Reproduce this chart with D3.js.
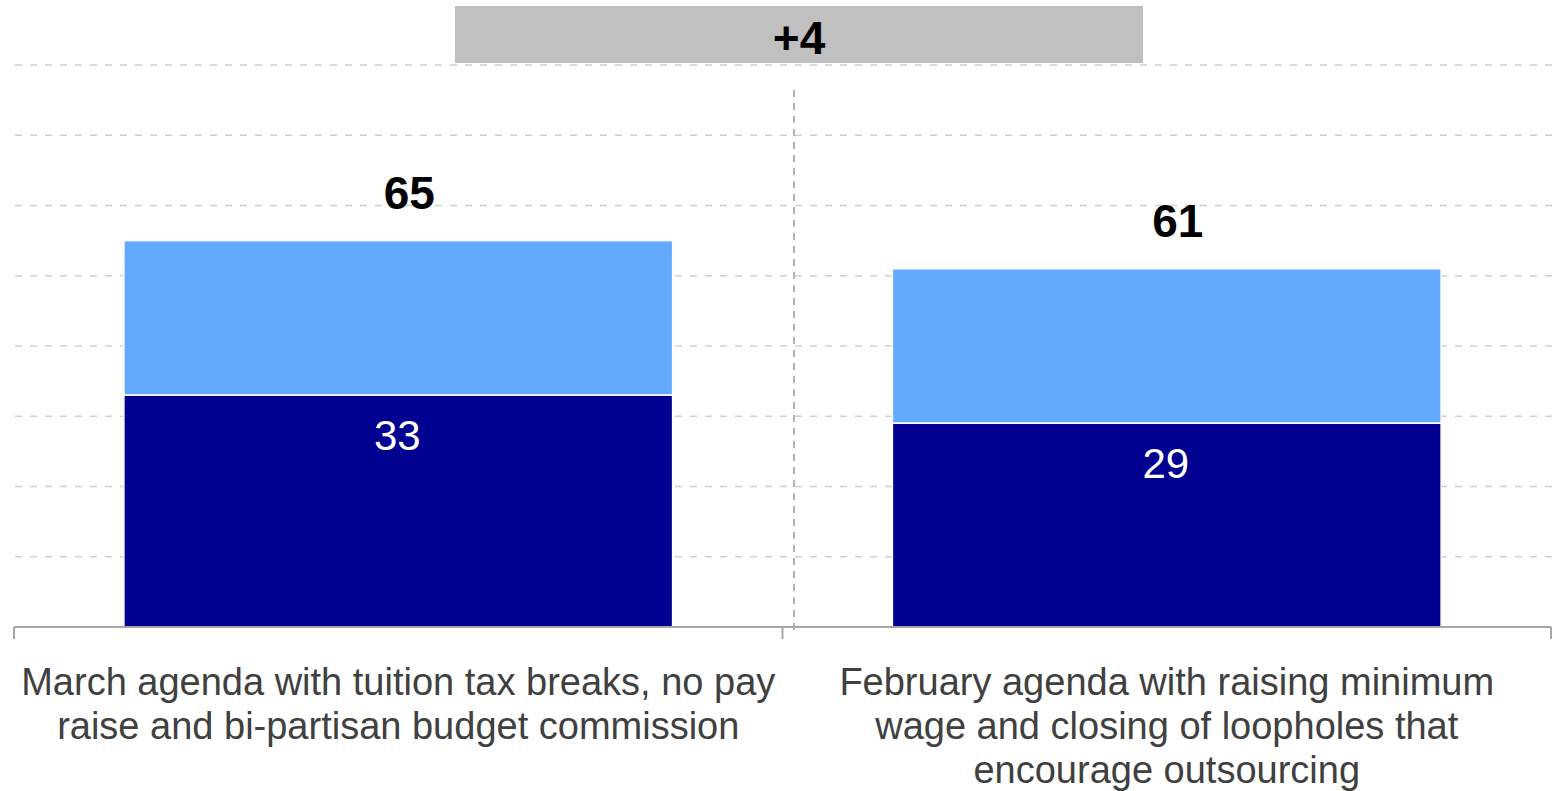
<!DOCTYPE html>
<html>
<head>
<meta charset="utf-8">
<script src="https://cdn.jsdelivr.net/npm/d3@7/dist/d3.min.js"></script>
<style>
  html, body { margin: 0; padding: 0; background: #fff; }
  svg { display: block; font-family: Arial, "Liberation Sans", sans-serif; }
</style>
</head>
<body>
<figure id="bar" style="margin:0"></figure>
<script>
// chart data
const categories = [
  ["March agenda with tuition tax breaks, no pay", "raise and bi-partisan budget commission"],
  ["February agenda with raising minimum", "wage and closing of loopholes that", "encourage outsourcing"]
];
const strongValues = [33, 29];     // dark segment
const somewhatValues = [22, 22];   // light segment
const totalLabels = [65, 61];      // printed totals above bars
const gridTicks = [10, 20, 30, 40, 50, 60, 70, 80];

const width = 1552, height = 791;
const baseY = 627, topY = 65;

const svg = d3.select("figure#bar")
  .append("svg")
  .attr("width", width)
  .attr("height", height);

const x = d3.scaleBand()
  .domain(d3.range(categories.length))
  .range([14, 1551])
  .paddingInner(0.286)
  .paddingOuter(0.143);

const y = d3.scaleLinear()
  .domain([0, 80])
  .range([baseY, topY]);

// dashed gridlines
svg.append("g")
  .selectAll("line")
  .data(gridTicks)
  .enter()
  .append("line")
  .attr("x1", 15)
  .attr("x2", width)
  .attr("y1", d => y(d))
  .attr("y2", d => y(d))
  .attr("stroke", "#d0d0d0")
  .attr("stroke-width", 1.5)
  .attr("stroke-dasharray", "7,8");

// vertical separator between the two agendas
svg.append("line")
  .attr("x1", 794).attr("x2", 794)
  .attr("y1", 90).attr("y2", 633)
  .attr("stroke", "#9a9a9a")
  .attr("stroke-width", 1.5)
  .attr("stroke-dasharray", "7,6");

// stacked bars
const barData = categories.map((c, i) => ({
  i: i,
  strong: strongValues[i],
  somewhat: somewhatValues[i],
  total: totalLabels[i]
}));

const groups = svg.append("g")
  .selectAll("g")
  .data(barData)
  .enter()
  .append("g");

groups.append("rect")
  .attr("x", d => x(d.i))
  .attr("y", d => y(d.strong + d.somewhat))
  .attr("width", x.bandwidth())
  .attr("height", d => y(d.strong) - y(d.strong + d.somewhat))
  .attr("fill", "#63a9fe")
  .attr("stroke", "#fff")
  .attr("stroke-width", 1.5);

groups.append("rect")
  .attr("x", d => x(d.i))
  .attr("y", d => y(d.strong))
  .attr("width", x.bandwidth())
  .attr("height", d => baseY - y(d.strong))
  .attr("fill", "#000091")
  .attr("stroke", "#fff")
  .attr("stroke-width", 1.5);

// value inside the dark segment
groups.append("text")
  .attr("x", d => x(d.i) + x.bandwidth() / 2 - 1)
  .attr("y", d => y(d.strong) + 55)
  .attr("text-anchor", "middle")
  .attr("fill", "#fff")
  .style("font-size", "42px")
  .text(d => d.strong);

// total label above bar
groups.append("text")
  .attr("x", d => x(d.i) + x.bandwidth() / 2 + 11)
  .attr("y", d => y(d.total) + 39)
  .attr("text-anchor", "middle")
  .attr("fill", "#000")
  .style("font-size", "46px")
  .style("font-weight", "bold")
  .text(d => d.total);

// axis baseline and category ticks
svg.append("line")
  .attr("x1", 14).attr("x2", 1551)
  .attr("y1", baseY).attr("y2", baseY)
  .attr("stroke", "#a6a6a6")
  .attr("stroke-width", 2);

const tickXs = [14].concat(barData.map(d => x(d.i) + x.step() - x.step() * x.paddingOuter()));
svg.append("g")
  .selectAll("line")
  .data(tickXs)
  .enter()
  .append("line")
  .attr("x1", d => Math.min(d, 1551))
  .attr("x2", d => Math.min(d, 1551))
  .attr("y1", baseY)
  .attr("y2", baseY + 12)
  .attr("stroke", "#a6a6a6")
  .attr("stroke-width", 2);

// category labels
const cat = svg.append("g")
  .selectAll("text")
  .data(categories)
  .enter()
  .append("text")
  .attr("x", (d, i) => x(i) + x.bandwidth() / 2)
  .attr("y", 695)
  .attr("text-anchor", "middle")
  .attr("fill", "#404040")
  .style("font-size", "38px");

cat.selectAll("tspan")
  .data((d, i) => d.map(line => ({ line: line, cx: x(i) + x.bandwidth() / 2 })))
  .enter()
  .append("tspan")
  .attr("x", d => d.cx)
  .attr("dy", (d, j) => j === 0 ? 0 : 44)
  .text(d => d.line);

// difference box on top
const diff = totalLabels[0] - totalLabels[1];
svg.append("rect")
  .attr("x", 455)
  .attr("y", 6)
  .attr("width", 688)
  .attr("height", 57)
  .attr("fill", "#c0c0c0");

svg.append("text")
  .attr("x", 799)
  .attr("y", 54)
  .attr("text-anchor", "middle")
  .attr("fill", "#000")
  .style("font-size", "46px")
  .style("font-weight", "bold")
  .text((diff > 0 ? "+" : "") + diff);
</script>
</body>
</html>
